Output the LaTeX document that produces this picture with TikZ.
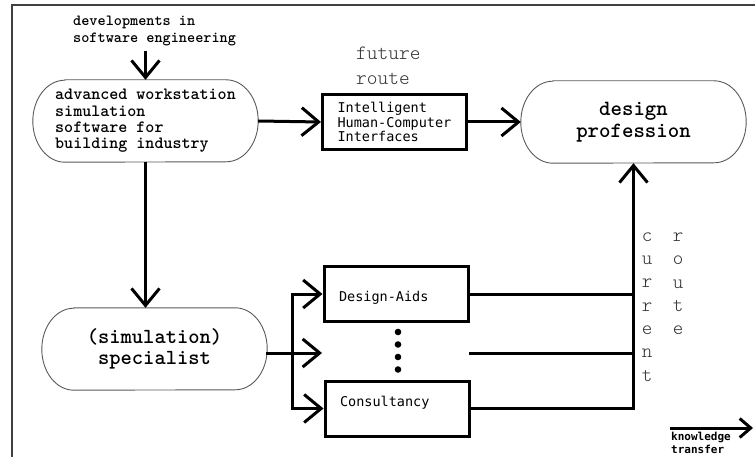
\documentclass[tikz,border=0pt]{standalone}
\usepackage{fontspec}
\newfontfamily\boldmono{lmmonolt10-bold.otf}
\newfontfamily\lightmono{lmmonolt10-regular.otf}
\newfontfamily\boxfont{DejaVu Sans Mono}
\usetikzlibrary{arrows.meta}

\newcommand\stadiumoutline[1]{%
  \draw[stadline] ([xshift=32pt]#1.north west) -- ([xshift=-32pt]#1.north east)
    arc[start angle=90,end angle=-90,x radius=32pt,y radius=41pt]
    -- ([xshift=32pt]#1.south west)
    arc[start angle=270,end angle=90,x radius=32pt,y radius=41pt] -- cycle;}

\begin{document}
\begin{tikzpicture}[x=1pt,y=-1pt,
  conn/.style={line width=3pt,-{Straight Barb[length=17pt,width=28pt]}},
  plain/.style={line width=3pt,line cap=rect},
  stadline/.style={draw=black!65,line width=0.9pt},
  stadnode/.style={minimum width=225pt,minimum height=82pt,inner sep=0pt},
  boxnode/.style={draw,line width=3pt,minimum height=55pt,text width=114pt,
    inner xsep=15pt,align=left,font=\boxfont\fontsize{13.5}{14.5}\selectfont},
  labeltext/.style={inner sep=0pt,text=black!80},
]
\useasboundingbox (0,0) rectangle (755,457);
% frame
\draw[black!75,line width=1.2pt] (755,5) -- (12,5) -- (12,457);

% top text
\node[anchor=west,align=left,inner sep=0pt,font=\boldmono\fontsize{15.5}{17}\selectfont]
  (dev) at (73,30.5) {developments in\\software engineering};

% stadium nodes
\node[stadnode,align=left,font=\boldmono\fontsize{17.2}{16.4}\selectfont]
  (aws) at (145.5,121) {advanced workstation\\simulation\\software for\\building industry};
\node[stadnode,align=center,font=\boldmono\fontsize{21.8}{22}\selectfont]
  (dp) at (633.5,122) {design\\profession};
\node[stadnode,align=center,font=\boldmono\fontsize{21.5}{21}\selectfont]
  (spec) at (154.5,349) {(simulation)\\specialist};
\stadiumoutline{aws}
\stadiumoutline{dp}
\stadiumoutline{spec}

% boxes
\node[boxnode] (ihci) at (394.5,122) {Intelligent\\Human-Computer\\Interfaces};
\node[boxnode,text height=15pt,text depth=0pt] (da) at (396,294) {Design-Aids};
\node[boxnode,text height=4pt,text depth=7.3pt] (cons) at (397,408.5) {Consultancy};

% dots
\fill (398,332) circle (3.3pt) (398,344.5) circle (3.3pt)
      (398,357) circle (3.3pt) (398,369.5) circle (3.3pt);

% route labels
\node[labeltext,anchor=west,align=left,font=\lightmono\fontsize{20.4}{25}\selectfont]
  (future) at (356,65.5) {future\\route};
\node[labeltext,align=center,font=\lightmono\fontsize{20}{23.3}\selectfont]
  (current) at (647,307) {c\\u\\r\\r\\e\\n\\t};
\node[labeltext,align=center,font=\lightmono\fontsize{20}{23.3}\selectfont]
  (route) at (678,284) {r\\o\\u\\t\\e};

% connectors
\path (dev.south) ++(0,5) coordinate (devb);
\draw[conn] (devb -| aws.north) -- (aws.north);
\draw[conn] (aws.east) -- (ihci.west);
\draw[conn] (ihci.east) -- (dp.west);
\draw[conn] (aws.south) -- (aws.south |- spec.north);

\coordinate (br) at (292,353);
\coordinate (mid) at (322,353);
\draw[plain] (spec.east |- mid) -- (br);
\draw[conn] (br) -- (mid);
\draw[plain] (br |- da.west) -- (br |- cons.west);
\draw[conn] (br |- da.west) -- (da.west);
\draw[conn] (br |- cons.west) -- (cons.west);

\coordinate (bus) at (dp.south |- cons.east);
\coordinate (midr) at (470,353);
\draw[plain] (da.east) -- (da.east -| bus);
\draw[plain] (midr) -- (midr -| bus);
\draw[plain] (cons.east) -- (bus);
\draw[conn] (bus) -- (dp.south);

% legend
\coordinate (ktA) at (670,428);
\coordinate (ktB) at (753,428);
\draw[line width=3pt,-{Straight Barb[length=11pt,width=19pt]}] (ktA) -- (ktB);
\node[anchor=west,align=left,inner sep=0pt,font=\boxfont\bfseries\fontsize{11}{13}\selectfont]
  (kt) at (671,443) {knowledge\\transfer};
\end{tikzpicture}
\end{document}
